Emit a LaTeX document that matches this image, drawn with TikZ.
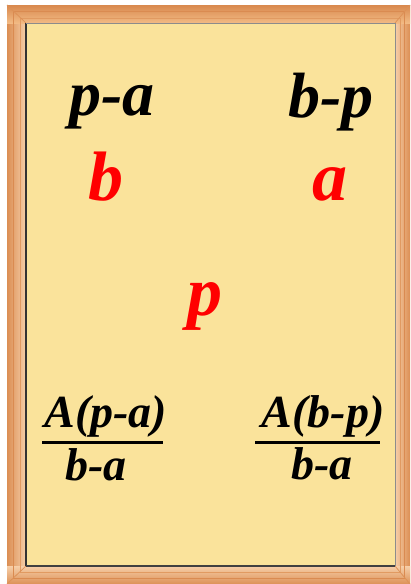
\documentclass[tikz,border=0pt]{standalone}
\usepackage{fontspec}
\setmainfont{Liberation Serif}
\usetikzlibrary{positioning,calc}
\definecolor{wood}{RGB}{242,186,132}
\definecolor{wooddark}{RGB}{212,128,68}
\definecolor{panel}{RGB}{250,227,155}
\tikzset{every picture/.style={line width=0.75pt}}

\begin{document}
\begin{tikzpicture}[x=1pt,y=-1pt,
    big/.style={anchor=base, inner sep=0pt, font=\fontsize{64}{66}\selectfont\bfseries\itshape},
    var/.style={big, text=red, font=\fontsize{70}{72}\selectfont\bfseries\itshape},
    frac/.style={anchor=base, inner sep=0pt, font=\fontsize{46}{48}\selectfont\bfseries\itshape}]
    \useasboundingbox (0,0) rectangle (410,584);
    % Holzrahmen
    \fill[wood] (7,5) rectangle (410,584);
    \shade[left color=wooddark!75!wood, right color=wood!70!white] (7,5) rectangle (26,584);
    \shade[left color=wood!70!white, right color=wooddark!75!wood] (395,5) rectangle (410,584);
    \shade[top color=wooddark!85!wood, bottom color=wood] (7,5) rectangle (410,23);
    \shade[top color=wood!70!white, bottom color=wooddark!70!wood] (7,566) rectangle (410,584);
    \draw[wooddark!80!wood, line width=1pt] (13,11) rectangle (404,578);
    \draw[wooddark!55!wood, line width=1pt] (20,18) rectangle (400,572);
    \draw[wooddark!70!wood] (7,5) -- (26,23) (410,5) -- (395,23)
        (7,584) -- (26,566) (410,584) -- (395,566);
    % Tafel
    \fill[panel] (26,23) rectangle (395,566);
    \draw[black!80, line width=1.3pt] (26,566) -- (26,23);
    \draw[black!45, line width=1pt] (26,23) -- (395,23) -- (395,566);
    \draw[black!75, line width=1.3pt] (395,566) -- (26,566);
    % Beschriftung
    \node[big] (pa) at (112,115) {p-a};
    \node[big] (bp) at (331,117) {b-p};
    \node[var] (b) at (106,200) {b};
    \node[var] (a) at (330,200) {a};
    \node[var] (p) at (205,315) {p};
    \node[frac] (numL) at (106,427) {A(p-a)};
    \node[frac] (denL) at (96,480) {b-a};
    \node[frac] (numR) at (323,427) {A(b-p)};
    \node[frac] (denR) at (322,479) {b-a};
    \draw[line width=3pt] (42,442) -- (163,442);
    \draw[line width=3pt] (255,442) -- (380,442);
\end{tikzpicture}
\end{document}
